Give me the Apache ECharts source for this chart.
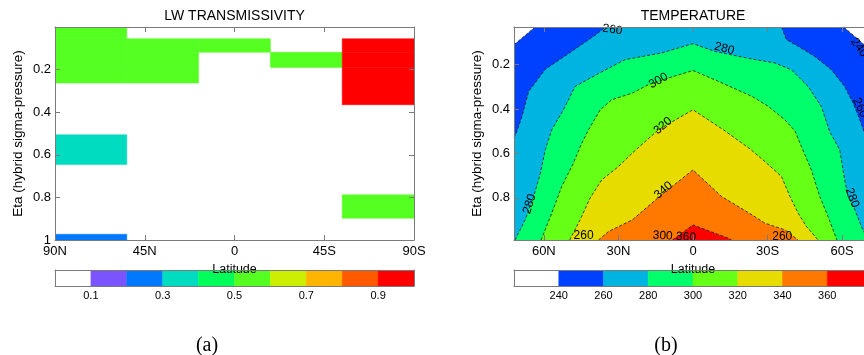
<!DOCTYPE html>
<html><head><meta charset="utf-8">
<script src="https://cdn.jsdelivr.net/npm/echarts@6/dist/echarts.min.js"></script>
<style>html,body{margin:0;padding:0;overflow:hidden;background:#fff;width:864px;height:355px}#c{width:880px;height:355px}</style>
</head><body><div id="c"></div>
<script>
// ---------- Panel (a): LW TRANSMISSIVITY ----------
const latEdgesA = [90, 54, 18, -18, -54, -90];
const etaEdgesA = [0, 0.055, 0.119, 0.190, 0.263, 0.365, 0.506, 0.646, 0.788, 0.898, 0.973, 1.0];
// rows = eta layers (top to bottom), columns = latitude bands (90N -> 90S)
const transA = [
  [0.55, 0,    0,    0,    0   ],
  [0.55, 0.55, 0.55, 0,    0.95],
  [0.55, 0.55, 0,    0.55, 0.95],
  [0.55, 0.55, 0,    0,    0.95],
  [0,    0,    0,    0,    0.95],
  [0,    0,    0,    0,    0   ],
  [0.35, 0,    0,    0,    0   ],
  [0,    0,    0,    0,    0   ],
  [0,    0,    0,    0,    0.55],
  [0,    0,    0,    0,    0   ],
  [0.25, 0,    0,    0,    0   ]
];
const levelsA = [0.1, 0.2, 0.3, 0.4, 0.5, 0.6, 0.7, 0.8, 0.9];
const colorsA = ['#ffffff', '#7a55ff', '#0078ff', '#00dcc0', '#00ff5a', '#55ff22', '#ccee00', '#ffb400', '#ff5a00', '#ff0000'];
const latTicksA = [90, 45, 0, -45, -90];
const cbLabelsA = [0.1, 0.3, 0.5, 0.7, 0.9];

// ---------- Panel (b): TEMPERATURE ----------
const levelsB = [240, 260, 280, 300, 320, 340, 360];
const colorsB = ['#ffffff', '#0041ff', '#00b4e2', '#00ff6a', '#66ff16', '#e6dc00', '#ff7800', '#ff0000'];
// isotherms as [lat, eta] polylines (one or two pieces per level)
const iso240 = [
  [[72, 0.11], [63.5, 0.03]],
  [[-60.6, 0.03], [-72, 0.14]]
];
const iso260 = [
  [[72, 0.53], [70.8, 0.50], [68.8, 0.433], [66.1, 0.32], [59.4, 0.22], [48.8, 0.14], [38.5, 0.06], [35.3, 0.03]],
  [[-35.6, 0.03], [-37.6, 0.087], [-42.3, 0.117], [-49.0, 0.163], [-55.7, 0.223], [-61.0, 0.298], [-64.4, 0.373], [-67.1, 0.448], [-68.8, 0.502], [-72, 0.58]]
];
const iso280 = [
  [[71.6, 0.99], [67.5, 0.899], [64.1, 0.794], [61.4, 0.689], [59.4, 0.583], [56.8, 0.493], [52.1, 0.403], [50.1, 0.358], [47.4, 0.298], [38.0, 0.24], [27.3, 0.177], [12.6, 0.147], [0, 0.105], [-8.8, 0.140], [-23, 0.173], [-32.9, 0.192], [-39.6, 0.223], [-46.3, 0.298], [-51.6, 0.388], [-55.0, 0.502], [-59.0, 0.583], [-61.0, 0.719], [-62.4, 0.794], [-65.1, 0.854], [-67.7, 0.929], [-70.4, 0.99]]
];
const iso300 = [
  [[61.1, 0.99], [56.8, 0.869], [52.8, 0.749], [48.1, 0.643], [44.7, 0.553], [42.0, 0.493], [37.3, 0.403], [32.7, 0.358], [24.4, 0.328], [18.0, 0.290], [9.9, 0.260], [0, 0.226], [-10.2, 0.275], [-23.8, 0.343], [-30.3, 0.388], [-36.9, 0.448], [-41.0, 0.498], [-43.6, 0.569], [-47.6, 0.674], [-51.0, 0.794], [-54.3, 0.884], [-57.9, 0.99]]
];
const iso320 = [
  [[49.6, 0.99], [45.4, 0.899], [41.4, 0.801], [36.7, 0.719], [30.0, 0.659], [24.4, 0.598], [13.9, 0.493], [0, 0.403], [-12.2, 0.493], [-23, 0.58], [-28.9, 0.636], [-35.6, 0.704], [-39.0, 0.794], [-42.3, 0.869], [-45.6, 0.929], [-50.3, 0.99]]
];
const iso340 = [
  [[38.0, 0.99], [34.0, 0.952], [24.4, 0.899], [12.6, 0.786], [0, 0.674], [-11.5, 0.794], [-23.8, 0.877], [-28.9, 0.914], [-36.9, 0.944], [-42.3, 0.99]]
];
const iso360 = [
  [[8.3, 0.99], [0, 0.922], [-14.2, 0.982], [-15.5, 0.99]]
];
const isothermsB = [iso240, iso260, iso280, iso300, iso320, iso340, iso360];
const labelTextsB = ['260', '280', '300', '320', '340', '280', '280', '260', '240', '260', '300 360', '260'];
const labelPosB = [[32.4, 0.042], [-12.6, 0.128], [13.9, 0.272], [12.1, 0.475], [11.9, 0.766], [65.7, 0.827], [-64, 0.80], [-67.2, 0.394], [-66.8, 0.123], [44, 0.972], [7.5, 0.974], [-35.9, 0.974]];
const labelRotB = [-8, -15, 30, 40, 40, 72, -70, -65, -55, 0, -3, 0];
const latTicksB = [60, 30, 0, -30, -60];
const etaTicksB = [0.2, 0.4, 0.6, 0.8];
const cbLabelsB = [240, 260, 280, 300, 320, 340, 360];

// ---------- helpers ----------
const FONT = '"Liberation Sans", Arial, Helvetica, sans-serif';
const FRAME = '#7a7a7a';
function colorA(v) { let i = 0; while (i < levelsA.length && v >= levelsA[i] - 1e-9) i++; return colorsA[i]; }
const latFmt = v => v > 0 ? v + 'N' : (v < 0 ? (-v) + 'S' : '0');

const cellsA = [];
transA.forEach((row, r) => row.forEach((v, c) => {
  if (v > 0) cellsA.push([latEdgesA[c], latEdgesA[c + 1], etaEdgesA[r], etaEdgesA[r + 1], v]);
}));
const boxEdgesA = [0].concat(levelsA, [1]);
const cbBoxesA = colorsA.map((c, i) => [boxEdgesA[i], boxEdgesA[i + 1], i]);
const boxEdgesB = [220].concat(levelsB, [380]);
const cbBoxesB = colorsB.map((c, i) => [boxEdgesB[i], boxEdgesB[i + 1], i]);

function frameX(grid, min, max, pos, extra) {
  return Object.assign({
    gridIndex: grid, type: 'value', min: min, max: max, inverse: true, position: pos, z: 10,
    axisLine: { show: true, onZero: false, lineStyle: { color: FRAME, width: 1 } },
    axisTick: { show: true, inside: true, length: 5, lineStyle: { color: FRAME } },
    axisLabel: { show: false }, splitLine: { show: false }
  }, extra || {});
}
const frameY = frameX;
const tickLabel = { show: true, fontSize: 13, color: '#000', fontFamily: FONT };
const xName = { name: 'Latitude', nameLocation: 'middle', nameGap: 18, nameTextStyle: { fontSize: 12.5, color: '#000', fontFamily: FONT } };
const yName = { name: 'Eta (hybrid sigma-pressure)', nameLocation: 'middle', nameGap: 30, nameRotate: 90, nameTextStyle: { fontSize: 13.5, color: '#000', fontFamily: FONT } };

function cbX(grid, min, max, labels, fmt) {
  return { gridIndex: grid, type: 'value', min: min, max: max, position: 'bottom', z: 10,
    axisLine: { show: true, onZero: false, lineStyle: { color: FRAME } }, axisTick: { show: false }, splitLine: { show: false },
    axisLabel: { show: true, customValues: labels, formatter: fmt, fontSize: 11, color: '#000', margin: 4, fontFamily: FONT } };
}
function cbLine(grid, pos, min, max) {
  return { gridIndex: grid, type: 'value', min: min, max: max, position: pos, z: 10,
    axisLine: { show: true, onZero: false, lineStyle: { color: FRAME } }, axisTick: { show: false }, axisLabel: { show: false }, splitLine: { show: false } };
}

const option = {
  animation: false,
  backgroundColor: '#ffffff',
  grid: [
    { left: 55, top: 27, width: 359, height: 213 },
    { left: 514, top: 27, width: 358, height: 213 },
    { left: 55, top: 270, width: 359, height: 16 },
    { left: 514, top: 270, width: 358, height: 16 }
  ],
  xAxis: [
    frameX(0, -90, 90, 'bottom', Object.assign({ interval: 45, axisLabel: Object.assign({}, tickLabel, { formatter: latFmt, margin: 5 }) }, xName)),
    frameX(0, -90, 90, 'top', { interval: 45 }),
    frameX(1, -72, 72, 'bottom', Object.assign({ axisTick: { show: true, inside: true, length: 5, customValues: latTicksB, lineStyle: { color: FRAME } },
      axisLabel: Object.assign({}, tickLabel, { customValues: latTicksB, formatter: latFmt, margin: 5 }) }, xName)),
    frameX(1, -72, 72, 'top', { axisTick: { show: true, inside: true, length: 5, customValues: latTicksB, lineStyle: { color: FRAME } } }),
    cbX(2, 0, 1, cbLabelsA, v => v.toFixed(1)),
    cbLine(2, 'top', 0, 1),
    cbX(3, 220, 380, cbLabelsB, v => String(Math.round(v))),
    cbLine(3, 'top', 220, 380)
  ],
  yAxis: [
    frameY(0, 0, 1, 'left', Object.assign({ interval: 0.2, axisLabel: Object.assign({}, tickLabel, { margin: 4, formatter: v => v === 0 ? '' : String(+v.toFixed(1)) }) }, yName)),
    frameY(0, 0, 1, 'right', { interval: 0.2 }),
    frameY(1, 0.03, 0.99, 'left', Object.assign({ axisTick: { show: true, inside: true, length: 5, customValues: etaTicksB, lineStyle: { color: FRAME } },
      axisLabel: Object.assign({}, tickLabel, { customValues: etaTicksB, margin: 4, formatter: v => v.toFixed(1) }) }, yName)),
    frameY(1, 0.03, 0.99, 'right', { axisTick: { show: true, inside: true, length: 5, customValues: etaTicksB, lineStyle: { color: FRAME } } }),
    cbLine(2, 'left', 0, 1),
    cbLine(2, 'right', 0, 1),
    cbLine(3, 'left', 0, 1),
    cbLine(3, 'right', 0, 1)
  ],
  graphic: [
    { type: 'text', x: 234.5, y: 16.5, style: { text: 'LW TRANSMISSIVITY', font: '14px ' + FONT, fill: '#000', align: 'center', verticalAlign: 'middle' } },
    { type: 'text', x: 693, y: 16.5, style: { text: 'TEMPERATURE', font: '14px ' + FONT, fill: '#000', align: 'center', verticalAlign: 'middle' } },
    { type: 'text', x: 207, y: 346, style: { text: '(a)', font: '20px "Liberation Serif", "Times New Roman", serif', fill: '#000', align: 'center', verticalAlign: 'middle' } },
    { type: 'text', x: 666, y: 346, style: { text: '(b)', font: '20px "Liberation Serif", "Times New Roman", serif', fill: '#000', align: 'center', verticalAlign: 'middle' } }
  ],
  series: []
};

// (a) cells
option.series.push({
  type: 'custom', xAxisIndex: 0, yAxisIndex: 0, clip: true, silent: true, z: 2,
  encode: { x: [0, 1], y: [2, 3] }, data: cellsA,
  renderItem: function (params, api) {
    const p0 = api.coord([api.value(0), api.value(2)]);
    const p1 = api.coord([api.value(1), api.value(3)]);
    return { type: 'rect', shape: { x: Math.min(p0[0], p1[0]), y: Math.min(p0[1], p1[1]), width: Math.abs(p1[0] - p0[0]), height: Math.abs(p1[1] - p0[1]) },
      style: { fill: colorA(api.value(4)), stroke: colorA(api.value(4)), lineWidth: 0.5 } };
  }
});

// (b) filled bands: warm side of each isotherm painted in order
option.series.push({
  type: 'custom', xAxisIndex: 2, yAxisIndex: 2, clip: true, silent: true, z: 2,
  data: isothermsB.map(p => p[0][0]),
  renderItem: function (params, api) {
    const pieces = isothermsB[params.dataIndex];
    let pts = [];
    pieces.forEach(pc => { pts = pts.concat(pc); });
    pts = pts.concat([[-72, 0.99], [72, 0.99]]);
    return { type: 'polygon', shape: { points: pts.map(p => api.coord(p)) },
      style: { fill: colorsB[params.dataIndex + 1] } };
  }
});

// (b) dashed isotherm lines
isothermsB.forEach(pieces => pieces.forEach(pc => {
  option.series.push({
    type: 'line', xAxisIndex: 2, yAxisIndex: 2, data: pc, symbol: 'none', showSymbol: false, clip: true, silent: true, z: 3,
    lineStyle: { color: '#1a1a1a', width: 0.8, type: [3, 2] }
  });
}));

// (b) contour labels
option.series.push({
  type: 'custom', xAxisIndex: 2, yAxisIndex: 2, clip: false, silent: true, z: 4,
  data: labelPosB,
  renderItem: function (params, api) {
    const p = api.coord([api.value(0), api.value(1)]);
    return { type: 'text', x: p[0], y: p[1], rotation: labelRotB[params.dataIndex] * Math.PI / 180,
      style: { text: labelTextsB[params.dataIndex], font: '12px ' + FONT, fill: '#000', align: 'center', verticalAlign: 'middle' } };
  }
});

// colorbars
function cbSeries(xi, yi, boxes, colors) {
  return { type: 'custom', xAxisIndex: xi, yAxisIndex: yi, clip: true, silent: true, z: 2,
    encode: { x: [0, 1] }, data: boxes,
    renderItem: function (params, api) {
      const p0 = api.coord([api.value(0), 0]);
      const p1 = api.coord([api.value(1), 1]);
      const c = colors[api.value(2)];
      return { type: 'rect', shape: { x: Math.min(p0[0], p1[0]), y: Math.min(p0[1], p1[1]), width: Math.abs(p1[0] - p0[0]), height: Math.abs(p1[1] - p0[1]) },
        style: { fill: c, stroke: c, lineWidth: 0.5 } };
    } };
}
option.series.push(cbSeries(4, 4, cbBoxesA, colorsA));
option.series.push(cbSeries(6, 6, cbBoxesB, colorsB));

const chart = echarts.init(document.getElementById('c'), null, { renderer: 'canvas' });
chart.setOption(option);
</script></body></html>
